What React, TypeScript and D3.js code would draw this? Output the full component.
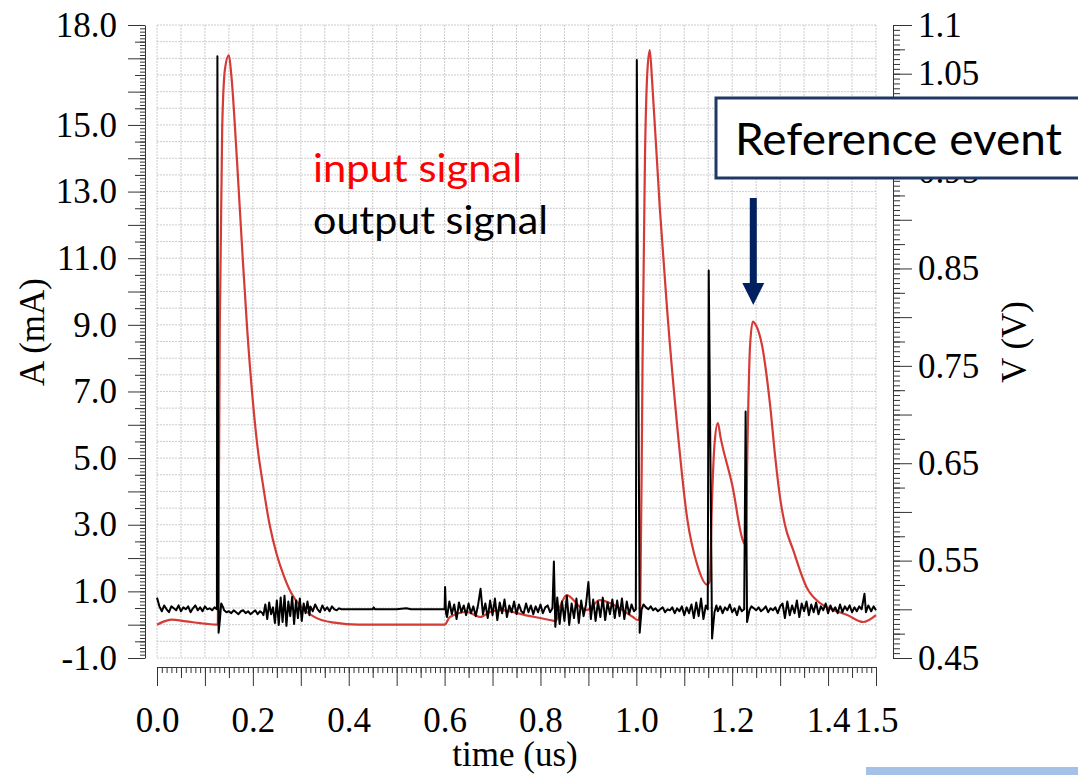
import * as d3 from "d3";
import { useEffect, useRef } from "react";

const WIDTH = 1078;
const HEIGHT = 775;

// input signal (red, left axis): [time (us), current (mA)]
const inputSignal: [number, number][] = [
  [0, 0.0], [0.015, 0.1], [0.03, 0.15], [0.06, 0.1], [0.1, 0.03], [0.125, 0.0],
  [0.127, 0.0], [0.131, 9.0], [0.136, 14.9], [0.142, 16.7], [0.15, 17.1], [0.155, 16.5],
  [0.167, 13.9], [0.178, 11.2], [0.188, 8.9], [0.2, 6.7], [0.21, 5.3], [0.22, 4.3],
  [0.235, 3.0], [0.25, 2.1], [0.265, 1.45], [0.28, 0.95], [0.3, 0.55], [0.33, 0.22],
  [0.37, 0.06], [0.42, 0.0], [0.6, 0.0],
  [0.611, 0.23], [0.647, 0.38], [0.674, 0.23], [0.695, 0.38], [0.716, 0.44], [0.77, 0.28],
  [0.826, 0.12], [0.832, 0.1], [0.84, 0.5], [0.855, 0.89], [0.883, 0.53], [0.897, 0.44],
  [0.924, 0.74], [0.945, 0.65], [0.993, 0.23], [1.003, 0.14],
  [1.008, 0.3], [1.013, 8.0], [1.018, 14.0], [1.023, 16.6], [1.028, 17.25], [1.033, 16.3],
  [1.049, 12.5], [1.064, 9.5], [1.085, 6.0], [1.106, 3.2], [1.127, 1.8], [1.148, 1.2],
  [1.153, 1.3], [1.158, 3.8], [1.163, 5.4], [1.17, 6.05], [1.176, 5.6], [1.2, 4.2],
  [1.223, 2.5], [1.228, 2.4], [1.232, 5.5], [1.237, 8.3], [1.243, 9.1], [1.249, 9.0],
  [1.262, 8.4], [1.279, 6.6], [1.29, 5.0], [1.3, 3.8], [1.31, 3.0], [1.327, 2.25],
  [1.356, 1.1], [1.383, 0.65], [1.41, 0.45], [1.44, 0.29], [1.473, 0.08], [1.5, 0.29],
];

// output signal (black, right axis), in mV
// runs are sampled every SAMPLE us from their start time
const SAMPLE = 0.005;
const outRun1 = [512, 503, 498, 504, 500, 497, 503, 501, 499, 504, 498, 502, 500, 503, 497, 501, 504, 499, 502, 498, 503, 500, 501, 499, 502, 500];
const outSpike1: [number, number][] = [[0.126, 1068], [0.1285, 476], [0.131, 488], [0.134, 506], [0.138, 502]];
const outRun2 = [499, 497, 498, 496, 499, 497, 495, 498, 499, 496, 498, 495, 497, 499, 495, 498, 496];
const outBurst1 = [494, 505, 490, 507, 495, 502, 486, 509, 484, 512, 487, 514, 483, 508, 493, 513, 485, 509, 491, 511, 488, 506, 496, 508, 494];
const outRun3 = [503, 498, 505, 500, 497, 504, 499, 502, 498, 503, 500, 499, 501];
const outFlat: [number, number][] = [[0.385, 500], [0.45, 500], [0.452, 502], [0.455, 500], [0.5, 500], [0.52, 501], [0.53, 500], [0.598, 500]];
const outSpike2: [number, number][] = [[0.6, 500], [0.601, 523], [0.603, 496]];
const outRun4 = [492, 508, 495, 505, 490, 507, 497, 504, 494, 506, 496, 503, 493, 505, 521, 495, 506, 491, 509, 494, 511, 489, 507, 496, 510, 492, 504, 497, 508, 495, 505, 498, 496, 506, 497, 504, 495, 503, 497, 505, 496, 502, 504, 497, 501];
const outSpike3: [number, number][] = [[0.828, 549], [0.831, 482]];
const outRun5 = [512, 485, 508, 488, 514, 484, 506, 491, 511, 486, 509, 493, 505, 528, 490, 510, 488, 508, 492, 512, 489, 507, 495, 510, 491, 509, 493, 511, 490, 508, 495, 505, 498];
const outSpike4: [number, number][] = [[0.999, 500], [1.001, 1064], [1.007, 476], [1.011, 500], [1.015, 505]];
const outRun6 = [502, 500, 503, 499, 501, 498, 500, 502, 497, 500, 499, 502, 496, 501, 498, 503, 494, 502, 496, 505, 491, 507, 493, 511, 490, 504];
const outSpike5: [number, number][] = [[1.149, 500], [1.151, 848], [1.158, 470], [1.163, 497], [1.167, 504]];
const outRun7 = [498, 503, 496, 502, 499, 505, 497, 501, 494, 503, 498, 500];
const outSpike6: [number, number][] = [[1.228, 703], [1.231, 487], [1.236, 499], [1.24, 503]];
const outRun8 = [501, 499, 502, 498, 500, 503, 497, 501, 499, 502, 496, 503, 506, 491, 508, 494, 504, 496, 509, 492, 506, 498, 508, 494, 505, 497, 507, 495, 503, 499, 506, 496, 504, 498, 502, 496, 505, 497, 503, 499, 504, 497, 502, 498, 503, 500];
const outTail: [number, number][] = [[1.476, 516], [1.479, 497], [1.484, 504], [1.49, 498], [1.495, 503], [1.5, 499]];

const run = (t0: number, values: number[], step = SAMPLE): [number, number][] =>
  values.map((v, i) => [t0 + i * step, v]);

const outputSignal: [number, number][] = [
  ...run(0, outRun1), ...outSpike1, ...run(0.14, outRun2), ...run(0.222, outBurst1, 0.004),
  ...run(0.32, outRun3), ...outFlat, ...outSpike2, ...run(0.605, outRun4), ...outSpike3,
  ...run(0.835, outRun5), ...outSpike4, ...run(1.02, outRun6), ...outSpike5,
  ...run(1.17, outRun7), ...outSpike6, ...run(1.245, outRun8), ...outTail,
];

const leftLabels = [-1, 1, 3, 5, 7, 9, 11, 13, 15, 18];
const rightLabels = [0.45, 0.55, 0.65, 0.75, 0.85, 0.95, 1.05, 1.1];
const bottomLabels = [0, 0.2, 0.4, 0.6, 0.8, 1.0, 1.2, 1.4, 1.5];

export default function App() {
  const ref = useRef<SVGSVGElement>(null);

  useEffect(() => {
    const svg = d3.select(ref.current);
    svg.selectAll("*").remove();

    const left = 157, right = 876, top = 25, bottom = 658;
    const x = d3.scaleLinear().domain([0, 1.5]).range([left, right]);
    const yA = d3.scaleLinear().domain([-1, 18]).range([bottom, top]);
    const yV = d3.scaleLinear().domain([0.45, 1.1]).range([bottom, top]);

    const serif = "'Liberation Serif', 'Times New Roman', serif";
    const sans = "Lato, 'Open Sans', sans-serif";
    const fmt1 = (d: any) => d3.format(".1f")(d).replace("\u2212", "-");

    // grid
    const grid = svg.append("g")
      .attr("stroke", "#cccccc")
      .attr("stroke-width", 1)
      .attr("stroke-dasharray", "2,1");
    grid.selectAll("line.h")
      .data(d3.range(-1, 18.001, 0.5))
      .join("line")
      .attr("x1", left).attr("x2", right)
      .attr("y1", d => yA(d)).attr("y2", d => yA(d));
    grid.selectAll("line.v")
      .data(d3.range(0, 1.5001, 0.05))
      .join("line")
      .attr("class", "v")
      .attr("y1", top).attr("y2", bottom)
      .attr("x1", d => x(d)).attr("x2", d => x(d));

    // tick helper
    const tickSet = (g: any, axis: any, values: number[], size: number) => {
      g.call(axis.tickValues(values).tickSize(size).tickSizeOuter(0).tickFormat(() => ""));
      g.select(".domain").remove();
      g.selectAll("line").attr("stroke", "#333");
    };

    // left axis
    const leftX = 145;
    const gl = svg.append("g").attr("transform", `translate(${leftX},0)`);
    tickSet(gl.append("g"), d3.axisLeft(yA), d3.range(-1, 18.001, 0.1), 5);
    tickSet(gl.append("g"), d3.axisLeft(yA), d3.range(-0.5, 18, 1), 10);
    tickSet(gl.append("g"), d3.axisLeft(yA), d3.range(-1, 18.001, 1), 17);
    const glLab = gl.append("g").call(
      d3.axisLeft(yA).tickValues(leftLabels).tickSize(0).tickSizeOuter(0).tickPadding(28).tickFormat(fmt1)
    );
    glLab.attr("font-family", serif).attr("font-size", 35);
    glLab.selectAll("text").attr("fill", "#000");
    glLab.select(".domain").attr("stroke", "#333");

    // right axis
    const rightX = 893;
    const gr = svg.append("g").attr("transform", `translate(${rightX},0)`);
    tickSet(gr.append("g"), d3.axisRight(yV), d3.range(0.45, 1.1001, 0.005), 7);
    tickSet(gr.append("g"), d3.axisRight(yV), d3.range(0.475, 1.1, 0.05), 12);
    tickSet(gr.append("g"), d3.axisRight(yV), d3.range(0.45, 1.1001, 0.05), 19);
    const grLab = gr.append("g").call(
      d3.axisRight(yV).tickValues(rightLabels).tickSize(0).tickSizeOuter(0).tickPadding(25).tickFormat((d: any) => String(d))
    );
    grLab.attr("font-family", serif).attr("font-size", 35);
    grLab.selectAll("text").attr("fill", "#000");
    grLab.select(".domain").attr("stroke", "#333");

    // bottom axis
    const bottomY = 667;
    const gb = svg.append("g").attr("transform", `translate(0,${bottomY})`);
    tickSet(gb.append("g"), d3.axisBottom(x), d3.range(0, 1.5001, 0.01), 6);
    tickSet(gb.append("g"), d3.axisBottom(x), d3.range(0.05, 1.5, 0.1), 11);
    tickSet(gb.append("g"), d3.axisBottom(x), d3.range(0, 1.5001, 0.1), 19);
    const gbLab = gb.append("g").call(
      d3.axisBottom(x).tickValues(bottomLabels).tickSize(0).tickSizeOuter(0).tickPadding(40).tickFormat(fmt1)
    );
    gbLab.attr("font-family", serif).attr("font-size", 35);
    gbLab.selectAll("text").attr("fill", "#000");
    gbLab.select(".domain").attr("stroke", "#333");

    // signals
    const lineA = d3.line<[number, number]>()
      .x(d => x(d[0])).y(d => yA(d[1]))
      .curve(d3.curveMonotoneX);
    const lineV = d3.line<[number, number]>().x(d => x(d[0])).y(d => yV(d[1] / 1000));

    svg.append("path")
      .datum(inputSignal)
      .attr("d", lineA)
      .attr("fill", "none")
      .attr("stroke", "#d43a36")
      .attr("stroke-width", 2.2)
      .attr("stroke-linejoin", "round");

    svg.append("path")
      .datum(outputSignal)
      .attr("d", lineV)
      .attr("fill", "none")
      .attr("stroke", "#000")
      .attr("stroke-width", 2)
      .attr("stroke-linejoin", "round");

    // axis titles
    svg.append("text")
      .attr("transform", "translate(32,332) rotate(-90)")
      .attr("text-anchor", "middle")
      .attr("dominant-baseline", "central")
      .attr("font-family", serif)
      .attr("font-size", 35)
      .text("A (mA)");
    svg.append("text")
      .attr("transform", "translate(1014,342) rotate(-90)")
      .attr("text-anchor", "middle")
      .attr("dominant-baseline", "central")
      .attr("font-family", serif)
      .attr("font-size", 35)
      .text("V (V)");
    svg.append("text")
      .attr("x", 515).attr("y", 766)
      .attr("text-anchor", "middle")
      .attr("font-family", serif)
      .attr("font-size", 35)
      .text("time (us)");

    // legend
    svg.append("text")
      .attr("x", 313).attr("y", 182)
      .attr("font-family", sans).attr("font-size", 38)
      .attr("fill", "#ff0000")
      .attr("textLength", 209).attr("lengthAdjust", "spacingAndGlyphs")
      .text("input signal");
    svg.append("text")
      .attr("x", 313).attr("y", 234)
      .attr("font-family", sans).attr("font-size", 38)
      .attr("fill", "#000")
      .attr("textLength", 235).attr("lengthAdjust", "spacingAndGlyphs")
      .text("output signal");

    // annotation
    svg.append("rect")
      .attr("x", 716).attr("y", 98)
      .attr("width", 400).attr("height", 80)
      .attr("fill", "#fff")
      .attr("stroke", "#1f3864")
      .attr("stroke-width", 3);
    svg.append("text")
      .attr("x", 735).attr("y", 155)
      .attr("font-family", sans).attr("font-size", 44)
      .attr("fill", "#000")
      .attr("textLength", 327).attr("lengthAdjust", "spacingAndGlyphs")
      .text("Reference event");

    const ax = x(1.244);
    svg.append("rect")
      .attr("x", ax - 3.5).attr("y", 198)
      .attr("width", 7).attr("height", 87)
      .attr("fill", "#002060");
    svg.append("path")
      .attr("d", `M${ax - 11},283 L${ax + 11},283 L${ax},305 Z`)
      .attr("fill", "#002060");

    // strip at bottom right
    svg.append("rect")
      .attr("x", 866).attr("y", 767)
      .attr("width", 212).attr("height", 8)
      .attr("fill", "#a6c1e8");
  }, []);

  return (
    <svg
      ref={ref}
      width={WIDTH}
      height={HEIGHT}
      style={{ position: "absolute", left: 0, top: 0, background: "#fff" }}
    />
  );
}
